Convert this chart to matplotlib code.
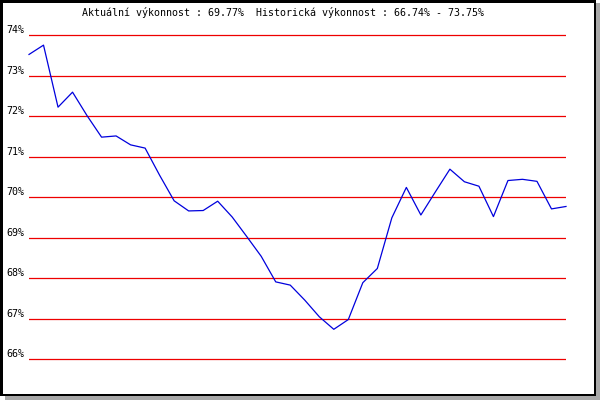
import numpy as np
import matplotlib
matplotlib.use("Agg")
import matplotlib.pyplot as plt
from matplotlib.patches import Rectangle

# performance values (one per period)
vykonnost = [73.52, 73.75, 72.22, 72.59, 72.01, 71.48, 71.51, 71.29, 71.21, 70.54,
             69.91, 69.66, 69.67, 69.90, 69.51, 69.03, 68.54, 67.91, 67.83, 67.46,
             67.05, 66.74, 66.98, 67.89, 68.24, 69.49, 70.24, 69.56, 70.13, 70.69,
             70.38, 70.27, 69.52, 70.41, 70.44, 70.39, 69.71, 69.77]
obdobi = np.arange(len(vykonnost))
urovne = [66, 67, 68, 69, 70, 71, 72, 73, 74]
titulek = "Aktuální výkonnost : 69.77%  Historická výkonnost : 66.74% - 73.75%"

W, H = 600, 400
fig = plt.figure(figsize=(6, 4), dpi=100)
fig.patch.set_facecolor("white")


def px_rect(x0, y0, x1, y1, color):
    # pixel box, y measured from the top
    fig.add_artist(Rectangle((x0 / W, 1 - y1 / H), (x1 - x0) / W, (y1 - y0) / H,
                             transform=fig.transFigure, facecolor=color,
                             edgecolor="none", zorder=10))


# shadow + black frame
px_rect(596, 3, 600, 400, "#a8a8a8")
px_rect(5, 396, 600, 400, "#a8a8a8")
px_rect(0, 0, 596, 2.5, "black")
px_rect(0, 393.5, 596, 396, "black")
px_rect(0, 0, 2.5, 396, "black")
px_rect(593.5, 0, 596, 396, "black")

# plot area: 74% at y=35px, 66% at y=359.3px, x from 29 to 566px
ppu = (359.3 - 35) / 8.0
pad = 0.25
top = 35 - pad * ppu
bottom = 359.3 + pad * ppu
ax = fig.add_axes([29 / W, 1 - bottom / H, (566 - 29) / W, (bottom - top) / H])
ax.set_xlim(0, len(vykonnost) - 1)
ax.set_ylim(66 - pad, 74 + pad)
ax.set_facecolor("none")
for s in ax.spines.values():
    s.set_visible(False)

ax.set_xticks([])
ax.set_yticks(urovne)
ax.set_yticklabels(["%d%%" % u for u in urovne], family="DejaVu Sans Mono", fontsize=7.2)
for lab in ax.get_yticklabels():
    lab.set_verticalalignment("bottom")
ax.tick_params(axis="y", length=0, pad=3)
ax.yaxis.grid(True, color="#ee0000", linewidth=0.9)
ax.set_axisbelow(True)

ax.plot(obdobi, vykonnost, color="#0000dd", linewidth=0.9, clip_on=False)

fig.text(282.5 / W, 1 - 12.5 / H, titulek, ha="center", va="center",
         family="DejaVu Sans Mono", fontsize=7.2)

fig.savefig("out.png", dpi=100)
